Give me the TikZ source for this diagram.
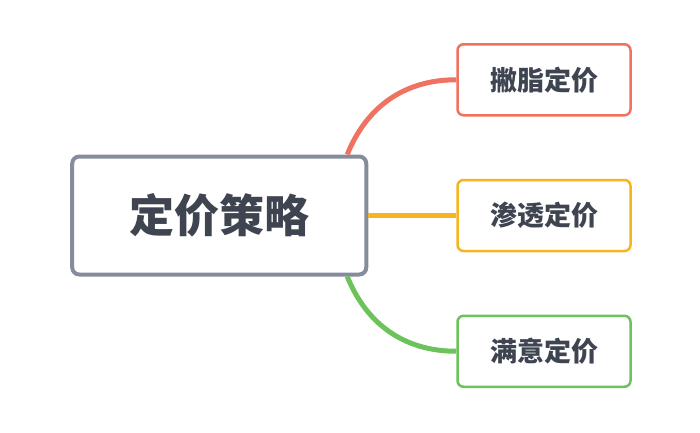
\documentclass[tikz,border=0pt]{standalone}
\usepackage{fontspec}
\setmainfont{Noto Sans CJK SC}
\usepackage{tikz}
\usetikzlibrary{matrix}
\definecolor{inkgray}{HTML}{3E4450}
\definecolor{rootgray}{HTML}{858C9C}
\definecolor{skimred}{HTML}{F07260}
\definecolor{pennyellow}{HTML}{F4B51E}
\definecolor{fairgreen}{HTML}{6CC25B}
\tikzset{
  root/.style={draw=rootgray, line width=4pt, rounded corners=7pt, fill=white,
    minimum width=294pt, minimum height=118pt, font=\fontsize{45}{50}\selectfont\bfseries},
  leaf/.style={draw=#1, line width=2.5pt, rounded corners=6pt, fill=white,
    minimum width=173pt, minimum height=71pt, font=\fontsize{27}{30}\selectfont\bfseries},
  branch/.style={draw=#1, line width=5pt}
}
\begin{document}
\begin{tikzpicture}[x=1pt, y=1pt, text=inkgray]
  \useasboundingbox (0,0) rectangle (700,432);
  \matrix (m) at (351,216.5) [matrix of nodes, row sep=38pt, column sep=88pt,
    nodes={anchor=center, inner sep=0pt}]
  {
               & |[leaf=skimred]| 撇脂定价   \\
    |[root]| 定价策略 & |[leaf=pennyellow]| 渗透定价 \\
               & |[leaf=fairgreen]| 满意定价  \\ };
  \path
  ([xshift=-21pt]m-2-1.north east) edge[branch=skimred, out=68, in=180] (m-1-2.west)
  (m-2-1.east) edge[branch=pennyellow] (m-2-2.west)
  ([xshift=-21pt]m-2-1.south east) edge[branch=fairgreen, out=-68, in=180] (m-3-2.west);
\end{tikzpicture}
\end{document}
